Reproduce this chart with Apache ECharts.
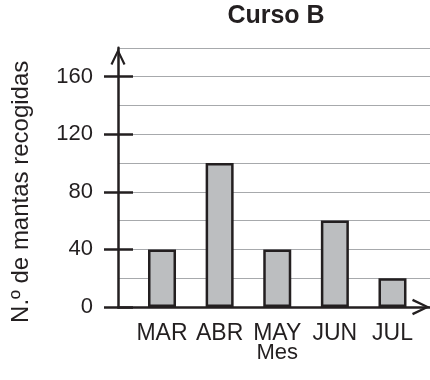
<!DOCTYPE html>
<html>
<head>
<meta charset="utf-8">
<script src="https://cdn.jsdelivr.net/npm/echarts@6/dist/echarts.min.js"></script>
<style>
  html, body { margin: 0; padding: 0; background: #ffffff; }
  #chart { width: 430px; height: 380px; }
</style>
</head>
<body>
<div id="chart"></div>
<script>
// Monthly counts of blankets collected by Curso B
const categories = ['MAR', 'ABR', 'MAY', 'JUN', 'JUL'];
const values = [40, 100, 40, 60, 20];

// Value scale: light rules every 20, labelled ticks every 40
const gridStep = 20;
const gridMax = 180;
const labelStep = 40;
const labelMax = 160;

const ink = '#231f20';
const font = '"Liberation Sans", Arial, Helvetica, sans-serif';

// Open chevron used as the arrow head of both axes (points up, rotated by ECharts)
const chevron = 'path://M8,0 L16,16.6 L13.9,17.6 L8,4.9 L2.1,17.6 L0,16.6 Z';

const chart = echarts.init(document.getElementById('chart'), null, { renderer: 'canvas' });

chart.setOption({
  animation: false,
  backgroundColor: '#ffffff',
  textStyle: { fontFamily: font, color: ink },
  title: {
    text: 'Curso B',
    left: 276,
    top: 4,
    padding: 0,
    textAlign: 'center',
    textStyle: { fontFamily: font, fontSize: 25, fontWeight: 'bold', color: ink }
  },
  grid: [
    // axes with arrows and horizontal rules
    { left: 118, right: 0, top: 47.8, bottom: 73 },
    // labelled ticks 0..160
    { left: 118, right: 0, top: 76.6, bottom: 73 },
    // bars
    { left: 133.2, right: 8.7, top: 47.8, bottom: 73 }
  ],
  xAxis: [
    {
      gridIndex: 0, type: 'value', min: 0, max: 1,
      axisLine: {
        show: true,
        lineStyle: { color: ink, width: 2.5 },
        symbol: ['none', chevron],
        symbolSize: [17, 18],
        symbolOffset: [0, -9]
      },
      axisTick: { show: false },
      axisLabel: { show: false },
      splitLine: { show: false }
    },
    { gridIndex: 1, type: 'value', min: 0, max: 1, show: false },
    {
      gridIndex: 2, type: 'category', data: categories,
      axisLine: { show: false },
      axisTick: { show: false },
      axisLabel: { interval: 0, margin: 15, fontSize: 23, color: ink, fontFamily: font },
      name: 'Mes',
      nameLocation: 'middle',
      nameGap: 35,
      nameMoveOverlap: false,
      nameTextStyle: { fontSize: 22, color: ink, fontFamily: font }
    }
  ],
  yAxis: [
    {
      gridIndex: 0, type: 'value', min: 0, max: gridMax, interval: gridStep,
      position: 'left',
      axisLine: {
        show: true,
        lineStyle: { color: ink, width: 2.5 },
        symbol: ['none', chevron],
        symbolSize: [15, 18],
        symbolOffset: [0, -9]
      },
      axisTick: { show: false },
      axisLabel: { show: false },
      splitLine: { show: true, lineStyle: { color: '#a7a9ac', width: 1.2 } }
    },
    {
      gridIndex: 1, type: 'value', min: 0, max: labelMax, interval: labelStep,
      position: 'left',
      axisLine: { show: false },
      axisTick: { show: true, length: 14, lineStyle: { color: ink, width: 2.5 } },
      axisLabel: { margin: 25, fontSize: 22, color: ink, fontFamily: font },
      splitLine: { show: false },
      name: 'N.º de mantas recogidas',
      nameLocation: 'middle',
      nameRotate: 90,
      nameGap: 85,
      nameMoveOverlap: false,
      nameTextStyle: { fontSize: 24, color: ink, fontFamily: font }
    },
    {
      gridIndex: 1, type: 'value', min: 0, max: labelMax, interval: labelStep,
      position: 'left',
      axisLine: { show: false },
      axisTick: { show: true, inside: true, length: 15, lineStyle: { color: ink, width: 2.5 } },
      axisLabel: { show: false },
      splitLine: { show: false }
    },
    { gridIndex: 2, type: 'value', min: 0, max: gridMax, show: false }
  ],
  series: [
    {
      type: 'bar',
      xAxisIndex: 2,
      yAxisIndex: 3,
      data: values,
      barWidth: 28,
      itemStyle: { color: '#bcbec0', borderColor: ink, borderWidth: 2.5 },
      z: 3
    }
  ]
});
</script>
</body>
</html>
